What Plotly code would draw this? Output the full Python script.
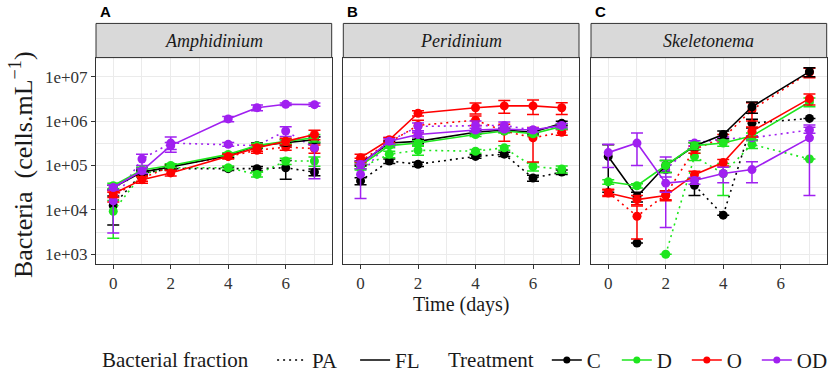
import plotly.graph_objects as go

# ---------------- data ----------------
days_AB = [0, 1, 2, 4, 5, 6, 7]
days_C = [0, 1, 2, 3, 4, 5, 7]
panel_names = ["Amphidinium", "Peridinium", "Skeletonema"]
panel_letters = ["A", "B", "C"]
treatments = ["C", "D", "O", "OD"]
fractions = ["PA", "FL"]
y_tick_vals = [1e3, 1e4, 1e5, 1e6, 1e7]
y_tick_text = ["1e+03", "1e+04", "1e+05", "1e+06", "1e+07"]
x_tick_vals = [0, 2, 4, 6]

# Amphidinium (cells/mL): mean and standard error
amph_mean = {
    "C_FL":  [3.2e4, 7.1e4, 9.3e4, 1.66e5, 2.8e5, 3.3e5, 3.8e5],
    "D_FL":  [3.5e4, 7.9e4, 1.0e5, 1.78e5, 2.8e5, 3.5e5, 4.2e5],
    "O_FL":  [2.3e4, 4.8e4, 6.8e4, 1.6e5, 2.5e5, 3.5e5, 5.0e5],
    "OD_FL": [3.2e4, 7.6e4, 2.8e5, 1.12e6, 2.0e6, 2.4e6, 2.35e6],
    "C_PA":  [1.26e4, 6.6e4, 8.5e4, 8.5e4, 8.5e4, 8.9e4, 7.1e4],
    "D_PA":  [9.3e3, 6.3e4, 8.9e4, 8.9e4, 6.3e4, 1.26e5, 1.26e5],
    "O_PA":  [2.0e4, 5.2e4, 9.5e4, 1.6e5, 2.2e5, 2.6e5, 2.4e5],
    "OD_PA": [1.6e4, 1.4e5, 3.2e5, 3.0e5, 2.8e5, 6.0e5, 2.5e5],
}
amph_se = {
    "C_FL":  [4e3, 8e3, 1e4, 1.5e4, 4e4, 5e4, 6e4],
    "D_FL":  [5e3, 1.2e4, 1e4, 1.5e4, 3e4, 4e4, 8e4],
    "O_FL":  [4e3, 8e3, 1e4, 2e4, 4e4, 6e4, 1.2e5],
    "OD_FL": [4e3, 1e4, 5e4, 1.5e5, 3e5, 1.5e5, 2e5],
    "C_PA":  [8e3, 8e3, 8e3, 8e3, 1e4, 4e4, 1.2e4],
    "D_PA":  [7e3, 8e3, 8e3, 8e3, 8e3, 2e4, 3e4],
    "O_PA":  [5e3, 8e3, 1e4, 1.5e4, 3e4, 4e4, 5e4],
    "OD_PA": [1.3e4, 4e4, 1.2e5, 3e4, 3e4, 1.5e5, 2e5],
}

# Peridinium
peri_mean = {
    "C_FL":  [1.12e5, 3.2e5, 3.5e5, 5.6e5, 6.3e5, 5.6e5, 8.9e5],
    "D_FL":  [1.0e5, 2.8e5, 3.2e5, 5.0e5, 6.0e5, 5.2e5, 7.6e5],
    "O_FL":  [1.5e5, 3.8e5, 1.5e6, 2.0e6, 2.2e6, 2.2e6, 2.0e6],
    "OD_FL": [1.05e5, 3.5e5, 5.0e5, 6.3e5, 6.6e5, 6.3e5, 8.0e5],
    "C_PA":  [4.5e4, 1.26e5, 1.07e5, 1.6e5, 1.8e5, 5.2e4, 7.1e4],
    "D_PA":  [8.9e4, 1.8e5, 2.2e5, 2.1e5, 2.5e5, 9.5e4, 8.3e4],
    "O_PA":  [1.26e5, 3.3e5, 8.0e5, 1.05e6, 6.0e5, 4.2e5, 5.6e5],
    "OD_PA": [6.3e4, 3.5e5, 7.6e5, 8.0e5, 8.0e5, 6.3e5, 7.6e5],
}
peri_se = {
    "C_FL":  [1.5e4, 3e4, 4e4, 5e4, 6e4, 5e4, 1e5],
    "D_FL":  [1.5e4, 3e4, 4e4, 5e4, 6e4, 5e4, 1e5],
    "O_FL":  [3e4, 5e4, 2e5, 5.5e5, 7e5, 8e5, 6e5],
    "OD_FL": [2e4, 5e4, 6e4, 6e4, 6e4, 6e4, 8e4],
    "C_PA":  [8e3, 1.5e4, 1.2e4, 1.5e4, 2e4, 8e3, 8e3],
    "D_PA":  [1e4, 3e4, 5e4, 2e4, 3e4, 2e4, 1.5e4],
    "O_PA":  [2e4, 4e4, 2.5e5, 2.5e5, 2.5e5, 3.0e5, 8e4],
    "OD_PA": [4.5e4, 8e4, 1.5e5, 2e5, 1.5e5, 8e4, 1e5],
}

# Skeletonema
skel_mean = {
    "C_FL":  [1.6e5, 2.0e4, 1.0e5, 2.75e5, 5.0e5, 2.1e6, 1.3e7],
    "D_FL":  [4.3e4, 3.5e4, 1.0e5, 2.8e5, 3.2e5, 4.6e5, 2.7e6],
    "O_FL":  [2.4e4, 1.7e4, 2.1e4, 6.2e4, 1.17e5, 5.9e5, 3.2e6],
    "OD_FL": [1.95e5, 3.2e5, 4.0e4, 4.6e4, 6.6e4, 8.1e4, 4.2e5],
    "C_PA":  [None, 1.8e3, None, 3.6e4, 7.6e3, 9.0e5, 1.15e6],
    "D_PA":  [None, None, 1.0e3, 1.6e5, 6.6e4, 3.0e5, 1.4e5],
    "O_PA":  [2.5e4, 7.2e3, 2.2e4, 2.3e5, 4.2e5, 1.8e6, 1.25e7],
    "OD_PA": [None, None, 8.0e4, 3.2e5, 4.0e5, 4.2e5, 6.3e5],
}
skel_se = {
    "C_FL":  [1.35e5, 5e3, 3e4, 5e4, 1e5, 6e5, 3e6],
    "D_FL":  [5e3, 4e3, 3e4, 5e4, 5e4, 8e4, 6e5],
    "O_FL":  [4e3, 4e3, 5e3, 1.2e4, 2e4, 1.5e5, 9e5],
    "OD_FL": [1.05e5, 2.2e5, 1.5e4, 8e3, 2.5e4, 4e4, 4e5],
    "C_PA":  [None, None, None, 1.5e4, None, 2e5, None],
    "D_PA":  [None, None, None, 3e4, 4.5e4, 6e4, None],
    "O_PA":  [4e3, 5e3, 5e3, 4e4, 8e4, 8e5, 3e6],
    "OD_PA": [None, None, 7.6e4, 4e4, 4e4, 5e4, 1e5],
}

# ---------------- style ----------------
colors = {"C": "#000000", "D": "#1EE61E", "O": "#FF0000", "OD": "#A020F0"}
dashes = {"PA": "2px,4px", "FL": "solid"}
SERIF = "Liberation Serif"
W, H = 829, 381


def px(x):
    return x / W


def py(y):
    return 1 - y / H


x_domains = [(px(96), px(331.7)), (px(343.3), px(579)), (px(591), px(826.7))]
y_domain = (py(270), py(59))
strip_top = py(24)

panels = [
    (days_AB, amph_mean, amph_se),
    (days_AB, peri_mean, peri_se),
    (days_C, skel_mean, skel_se),
]

fig = go.Figure()

for p, (days, means, ses) in enumerate(panels):
    xa = "x" if p == 0 else f"x{p + 1}"
    ya = "y" if p == 0 else f"y{p + 1}"
    for fr in fractions:
        for tr in treatments:
            key = f"{tr}_{fr}"
            y = means[key]
            se = ses[key]
            up = [s if (s is not None and m is not None) else None for s, m in zip(se, y)]
            dn = [min(s, 0.95 * m) if (s is not None and m is not None) else None
                  for s, m in zip(se, y)]
            fig.add_trace(go.Scatter(
                x=days, y=y, xaxis=xa, yaxis=ya,
                mode="lines+markers",
                line=dict(color=colors[tr], width=1.6, dash=dashes[fr]),
                marker=dict(color=colors[tr], size=9),
                error_y=dict(type="data", array=up, arrayminus=dn, symmetric=False,
                             color=colors[tr], thickness=1.5, width=6),
                connectgaps=False, showlegend=False, hoverinfo="skip",
            ))

# legend entries
for fr in fractions:
    fig.add_trace(go.Scatter(
        x=[None], y=[None], mode="lines", name=fr,
        line=dict(color="#000000", width=1.6, dash=dashes[fr]),
        legend="legend",
    ))
for tr in treatments:
    fig.add_trace(go.Scatter(
        x=[None], y=[None], mode="lines+markers", name=tr,
        line=dict(color=colors[tr], width=1.6),
        marker=dict(color=colors[tr], size=7),
        legend="legend2",
    ))

axis_font = dict(family=SERIF, size=17, color="#333333")
leg_font = dict(family=SERIF, size=21, color="#1A1A1A")
layout = dict(
    width=W, height=H, autosize=False,
    margin=dict(l=0, r=0, t=0, b=0),
    paper_bgcolor="white", plot_bgcolor="white",
    showlegend=True,
    legend=dict(title=dict(text="Bacterial fraction   ", side="left", font=leg_font),
                orientation="h", x=px(100), y=py(369), xanchor="left", yanchor="middle",
                font=leg_font, itemwidth=30, entrywidth=38, bgcolor="rgba(0,0,0,0)"),
    legend2=dict(title=dict(text="Treatment ", side="left", font=leg_font),
                 orientation="h", x=px(446), y=py(369), xanchor="left", yanchor="middle",
                 font=leg_font, itemwidth=30, entrywidth=25, bgcolor="rgba(0,0,0,0)"),
)

shapes = []
annotations = []
for p in range(3):
    xn = "xaxis" if p == 0 else f"xaxis{p + 1}"
    yn = "yaxis" if p == 0 else f"yaxis{p + 1}"
    yref = "y" if p == 0 else f"y{p + 1}"
    xref = "x" if p == 0 else f"x{p + 1}"
    layout[xn] = dict(
        domain=list(x_domains[p]), anchor=yref, range=[-0.6, 7.6],
        tickvals=x_tick_vals, ticks="outside", ticklen=4, tickwidth=1, tickcolor="#333333",
        tickfont=axis_font, showgrid=True, gridcolor="#EBEBEB", gridwidth=1.2,
        minor=dict(tickvals=[1, 3, 5, 7], showgrid=True, gridcolor="#EBEBEB", gridwidth=0.6, ticks=""),
        showline=True, mirror=True, linecolor="#333333", linewidth=1,
        zeroline=False, automargin=False,
    )
    layout[yn] = dict(
        domain=list(y_domain), anchor=xref, type="log", range=[2.79, 7.43],
        tickvals=y_tick_vals, ticktext=y_tick_text,
        ticks="outside" if p == 0 else "", ticklen=4, tickwidth=1, tickcolor="#333333",
        showticklabels=(p == 0), tickfont=axis_font,
        showgrid=True, gridcolor="#EBEBEB", gridwidth=1.2,
        minor=dict(tickvals=[10 ** 3.5, 10 ** 4.5, 10 ** 5.5, 10 ** 6.5, 10 ** 7.5], showgrid=True,
                   gridcolor="#EBEBEB", gridwidth=0.6, ticks=""),
        showline=True, mirror=True, linecolor="#333333", linewidth=1,
        zeroline=False, automargin=False,
    )
    x0, x1 = x_domains[p]
    shapes.append(dict(type="rect", xref="paper", yref="paper", x0=x0, x1=x1,
                       y0=y_domain[1], y1=strip_top, fillcolor="#D9D9D9",
                       line=dict(color="#333333", width=1), layer="above"))
    annotations.append(dict(xref="paper", yref="paper", x=(x0 + x1) / 2,
                            y=(y_domain[1] + strip_top) / 2, text=f"<i>{panel_names[p]}</i>",
                            showarrow=False, xanchor="center", yanchor="middle",
                            font=dict(family=SERIF, size=18, color="#1A1A1A")))
    annotations.append(dict(xref="paper", yref="paper", x=x0 + 2 / W, y=py(12),
                            text=f"<b>{panel_letters[p]}</b>", showarrow=False,
                            xanchor="left", yanchor="middle",
                            font=dict(family="Liberation Sans", size=15, color="#000000")))

annotations.append(dict(xref="paper", yref="paper", x=px(461), y=py(312),
                        text="Time (days)", showarrow=False, xanchor="center", yanchor="middle",
                        font=dict(family=SERIF, size=20, color="#1A1A1A")))
annotations.append(dict(xref="paper", yref="paper", x=px(21), y=py(169),
                        text="Bacteria  (cells.mL<sup>\u22121</sup>)", textangle=-90,
                        showarrow=False, xanchor="center", yanchor="middle",
                        font=dict(family=SERIF, size=26, color="#1A1A1A")))

layout["shapes"] = shapes
layout["annotations"] = annotations
fig.update_layout(**layout)
fig.write_html("out.html", config={"displayModeBar": False},
               post_script="document.body.style.margin='0px';document.body.style.overflow='hidden';")
